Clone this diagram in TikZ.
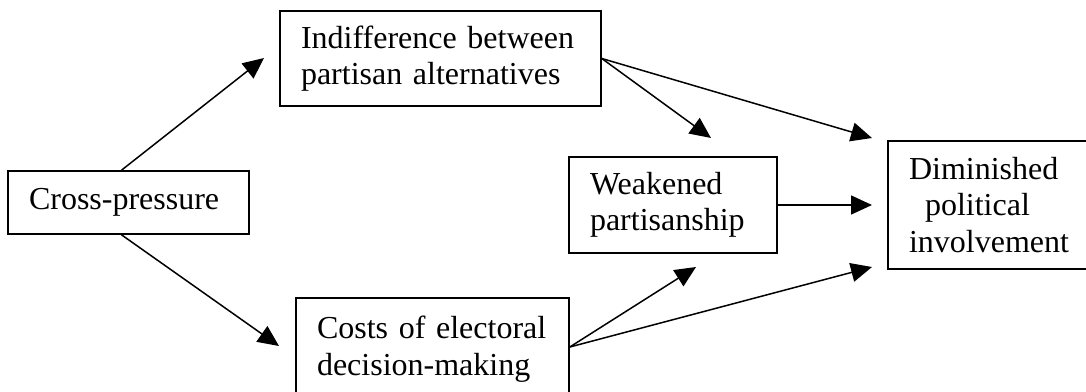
\documentclass[tikz,border=0pt]{standalone}
\usepackage{fontspec}
\setmainfont{Liberation Serif}
\usetikzlibrary{arrows.meta}

\tikzset{
  box/.style={draw, line width=1.6pt, align=left, inner xsep=21pt, inner ysep=0pt,
    font=\fontsize{32}{36.5}\selectfont},
  arr/.style={-{Triangle[length=21pt,width=19pt]}, line width=1.5pt}
}

\begin{document}
\begin{tikzpicture}[x=1pt,y=-1pt]
  \path[use as bounding box, fill=white] (0,0) rectangle (1086,391);

  % boxes
  \node[box,text width=199pt,minimum height=63pt] (cross) at (128.5,202.5) {Cross-pressure};
  \node[box,text width=279pt,minimum height=95pt] (indiff) at (440.5,58.5) {Indifference between\\partisan alternatives};
  \node[box,text width=231pt,minimum height=102pt] (costs) at (432.5,349) {Costs of electoral\\decision-making};
  \node[box,text width=166pt,minimum height=96pt] (weak) at (673,205) {Weakened\\partisanship};
  \node[box,text width=170pt,minimum height=128pt] (dimin) at (994,205) {Diminished\\\hspace*{16pt}political\\involvement};

  % arrow tips
  \coordinate (tipIndiff) at (264,58);
  \coordinate (tipCosts) at (279,346);
  \coordinate (tipWeakTop) at (711,138);
  \coordinate (tipDiminTop) at (872,138);
  \coordinate (tipDiminMid) at (872,205);
  \coordinate (tipWeakLow) at (696,267);
  \coordinate (tipDiminLow) at (872,267);

  \draw[arr] ([xshift=-7pt]cross.north) -- (tipIndiff);
  \draw[arr] ([xshift=-7pt]cross.south) -- (tipCosts);

  \draw[arr] (indiff.east) -- (tipWeakTop);
  \draw[arr] (indiff.east) -- (tipDiminTop);

  \draw[arr] (weak.east) -- (tipDiminMid);

  \draw[arr] ([yshift=2pt]costs.east) -- (tipWeakLow);
  \draw[arr] ([yshift=2pt]costs.east) -- (tipDiminLow);

\end{tikzpicture}
\end{document}
